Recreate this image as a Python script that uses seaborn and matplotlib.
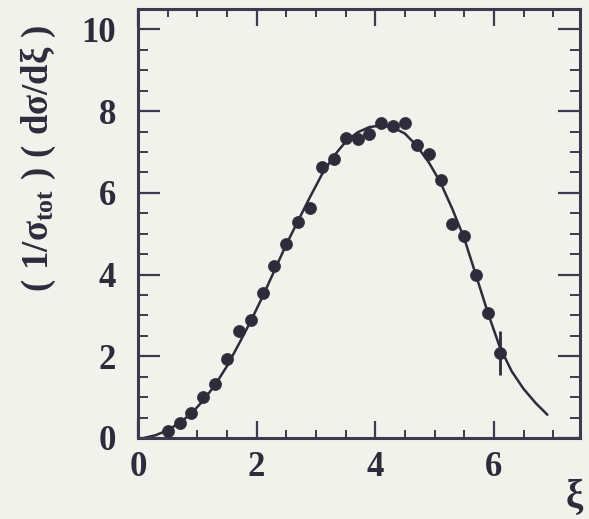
import matplotlib
matplotlib.use("Agg")
import matplotlib.pyplot as plt
from matplotlib.ticker import MultipleLocator
import seaborn as sns
import pandas as pd

# measured points (xi, value)
xi_data = [0.5, 0.7, 0.9, 1.1, 1.3, 1.5, 1.7, 1.9, 2.1, 2.3, 2.5, 2.7, 2.9, 3.1,
           3.3, 3.5, 3.7, 3.9, 4.1, 4.3, 4.5, 4.7, 4.9, 5.1, 5.3, 5.5, 5.7, 5.9, 6.1]
val_data = [0.16, 0.36, 0.60, 1.01, 1.33, 1.94, 2.62, 2.89, 3.56, 4.22, 4.76, 5.29, 5.63, 6.64,
            6.83, 7.34, 7.31, 7.45, 7.72, 7.63, 7.70, 7.17, 6.95, 6.32, 5.23, 4.94, 4.00, 3.07, 2.08]
err_data = [0.0, 0.0, 0.0, 0.0, 0.0, 0.0, 0.0, 0.0, 0.0, 0.0, 0.0, 0.0, 0.0, 0.0,
            0.0, 0.0, 0.0, 0.0, 0.0, 0.0, 0.0, 0.0, 0.0, 0.0, 0.0, 0.0, 0.0, 0.0, 0.55]

# theory curve
xi_curve = [0.1, 0.3, 0.5, 0.7, 0.9, 1.1, 1.3, 1.5, 1.7, 1.9, 2.1, 2.3, 2.5, 2.7, 2.9, 3.1,
            3.3, 3.5, 3.7, 3.9, 4.1, 4.3, 4.5, 4.7, 4.9, 5.1, 5.3, 5.5, 5.7, 5.9, 6.1, 6.3,
            6.5, 6.7, 6.9]
val_curve = [0.0, 0.07, 0.19, 0.37, 0.60, 0.92, 1.30, 1.76, 2.30, 2.86, 3.46, 4.10, 4.74, 5.32,
             5.90, 6.45, 6.90, 7.25, 7.48, 7.61, 7.65, 7.60, 7.45, 7.15, 6.75, 6.25, 5.60, 4.88,
             3.97, 3.05, 2.22, 1.63, 1.20, 0.86, 0.57]

x_ticks = [0, 2, 4, 6]
y_ticks = [0, 2, 4, 6, 8, 10]

sns.set_theme(style="ticks")
BG = "#f2f2ec"
INK = "#2e2b3a"
plt.rcParams.update({
    "font.family": ["Liberation Serif", "DejaVu Serif"],
    "font.weight": "bold",
    "mathtext.fontset": "custom",
    "mathtext.rm": "Liberation Serif:bold",
    "mathtext.it": "Liberation Serif:bold",
    "mathtext.bf": "Liberation Serif:bold",
    "figure.facecolor": BG,
    "axes.facecolor": BG,
})

fig = plt.figure(figsize=(5.89, 5.19), dpi=100)
ax = fig.add_axes([138/589, 1-438/519, (580-138)/589, (438-9)/519])

df_c = pd.DataFrame({"xi": xi_curve, "v": val_curve})
df_d = pd.DataFrame({"xi": xi_data, "v": val_data})

sns.lineplot(data=df_c, x="xi", y="v", ax=ax, color=INK, linewidth=1.8, sort=True)
ax.errorbar(xi_data, val_data, yerr=err_data, fmt="none", ecolor=INK, elinewidth=2.0, capsize=0)
sns.scatterplot(data=df_d, x="xi", y="v", ax=ax, color=INK, s=75, edgecolor=INK,
                linewidth=0.5, zorder=3)

ax.set_xlim(0, 7.45)
ax.set_ylim(0, 10.5)
ax.set_xticks(x_ticks)
ax.set_yticks(y_ticks)
ax.set_xticklabels([str(t) for t in x_ticks])
ax.set_yticklabels([str(t) for t in y_ticks])
ax.xaxis.set_minor_locator(MultipleLocator(0.5))
ax.yaxis.set_minor_locator(MultipleLocator(0.5))
ax.set_xlabel("")
ax.set_ylabel("")

for s in ax.spines.values():
    s.set_visible(True)
    s.set_linewidth(2.2)
    s.set_color("#3c3a4c")

ax.tick_params(axis="both", which="both", direction="in", top=True, right=True,
               color="#3c3a4c", labelcolor=INK, labelsize=25)
ax.tick_params(axis="x", which="major", length=12, width=1.6, pad=9)
ax.tick_params(axis="x", which="minor", length=6, width=1.4)
ax.tick_params(axis="y", which="major", length=16, width=1.6, pad=16)
ax.tick_params(axis="y", which="minor", length=7, width=1.4)
for lab in ax.get_xticklabels() + ax.get_yticklabels():
    lab.set_fontweight("bold")

fig.text(38/589, 1-158/519, r"$(\ 1/\sigma_{tot}\ )\ (\ d\sigma/d\xi\ )$", rotation=90,
         ha="center", va="center", fontsize=26.5, color=INK)
fig.text(574/589, 1-497/519, "ξ", ha="center", va="center", fontsize=28, color=INK,
         fontweight="bold")

fig.savefig("out.png", dpi=100, facecolor=BG)
